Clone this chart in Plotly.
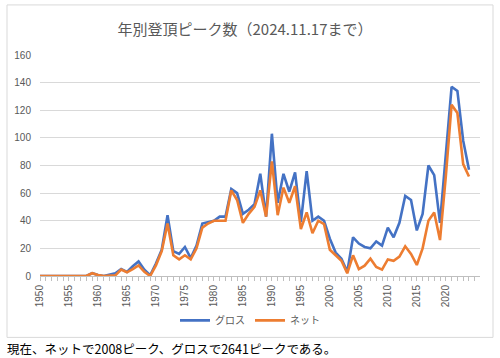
import plotly.graph_objects as go

years = list(range(1950, 2025))
gross = [0, 0, 0, 0, 0, 0, 0, 0, 0, 2,
         0.7, 0, 1, 2, 5, 3, 7, 10.5, 4.5, 0.5,
         9, 19, 44, 18, 16, 21, 13, 22, 38, 39,
         40, 43, 43, 63, 60, 45, 48, 52, 74, 43,
         103, 53, 74, 61, 75, 39, 76, 40, 43, 40,
         27, 17, 12.5, 3, 28, 23.5, 21, 20, 25, 22,
         35, 28, 38.5, 58, 55, 33, 45, 80, 73, 38.5,
         85, 137, 134, 98, 77]
net = [0, 0, 0, 0, 0, 0, 0, 0, 0, 2,
       0.7, 0, 0, 0.5, 4.6, 2.7, 5, 7.7, 3, 0,
       7.7, 18, 38, 15, 12, 15, 12, 20, 35, 38,
       40, 40, 40, 62, 55, 38.5, 45, 50, 62, 43,
       83, 44, 64, 53, 65, 34, 46, 31, 40, 37.5,
       19, 15, 11, 2, 15, 5, 7.5, 12.5, 6.5, 4.6,
       12, 11, 14, 21.5, 16, 8, 20, 40, 46, 26,
       72, 124, 118, 81, 72]
tick_years = list(range(1950, 2025, 5))
title_text = "年別登頂ピーク数（2024.11.17まで）"
footer_text = "現在、ネットで2008ピーク、グロスで2641ピークである。"

W, H = 500, 358
L, R, T, B = 40, 480, 55, 275.7

def px_x(x):
    return (x - L) / (R - L)

def px_y(y):
    return (B - y) / (B - T)

fig = go.Figure()
fig.add_trace(go.Scatter(x=years, y=gross, name="グロス", mode="lines",
                         line=dict(color="#4472C4", width=2.6)))
fig.add_trace(go.Scatter(x=years, y=net, name="ネット", mode="lines",
                         line=dict(color="#ED7D31", width=2.6)))

fig.update_layout(
    width=W, height=H,
    margin=dict(l=L, r=W - R, t=T, b=H - B),
    paper_bgcolor="white", plot_bgcolor="white",
    font=dict(family="Liberation Sans", color="#595959", size=10),
    title=dict(text=title_text, x=245 / W, xanchor="center",
               y=1 - 30 / H, yanchor="middle",
               font=dict(family="Noto Sans CJK JP", size=15, color="#595959")),
    showlegend=True,
    legend=dict(orientation="h", x=px_x(250), xanchor="center",
                y=px_y(320), yanchor="middle",
                font=dict(family="Noto Sans CJK JP", size=10, color="#595959"),
                itemwidth=30, tracegroupgap=0),
    xaxis=dict(range=[1950, 2025.9], tickmode="array", tickvals=tick_years,
               ticktext=[str(y) for y in tick_years], tickangle=-90,
               ticks="outside", ticklen=4, tickcolor="#bfbfbf",
               minor=dict(dtick=1, tick0=1950, ticks="outside", ticklen=4,
                          tickcolor="#bfbfbf", showgrid=False),
               showgrid=False, zeroline=False, showline=True,
               linecolor="#bfbfbf", linewidth=1,
               tickfont=dict(size=10, color="#595959")),
    yaxis=dict(range=[0, 160], dtick=20, showgrid=True, gridcolor="#d9d9d9",
               gridwidth=1, zeroline=False, showline=False, ticks="",
               ticklabelstandoff=8,
               tickfont=dict(size=10, color="#595959")),
    shapes=[dict(type="rect", xref="paper", yref="paper",
                 x0=px_x(7), x1=px_x(493), y0=px_y(337), y1=px_y(5),
                 line=dict(color="#d9d9d9", width=1), layer="below")],
    annotations=[dict(text=footer_text, xref="paper", yref="paper",
                      x=px_x(5), xanchor="left", y=px_y(348), yanchor="middle",
                      showarrow=False,
                      font=dict(family="Noto Sans CJK JP", size=12.5, color="#000000"))],
)

fig.write_html("out.html", config={"displayModeBar": False},
               post_script="document.body.style.margin='0';document.body.style.overflow='hidden';")
